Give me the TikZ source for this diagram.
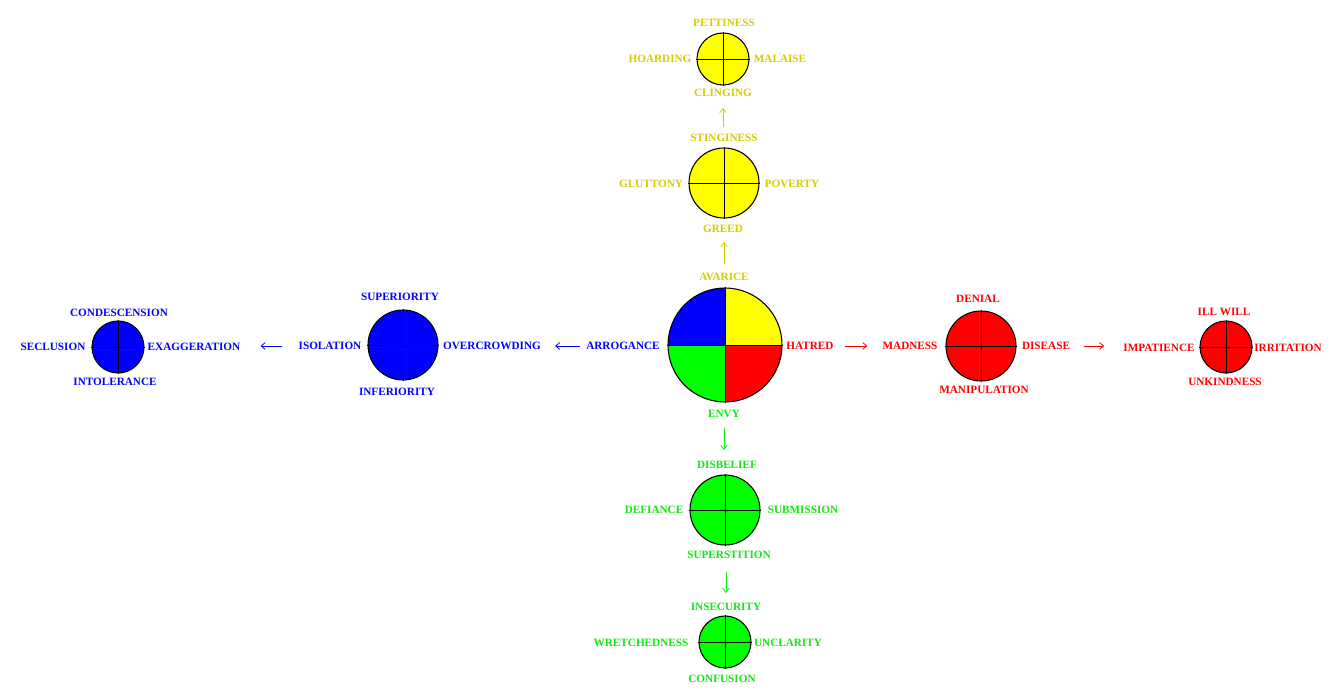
\documentclass[tikz,border=0pt]{standalone}
\usepackage{fontspec}
\setmainfont{Liberation Serif}
\usetikzlibrary{arrows.meta}
\definecolor{ytxt}{RGB}{214,204,0}
\definecolor{btxt}{RGB}{0,0,255}
\definecolor{gtxt}{RGB}{20,230,20}
\definecolor{rtxt}{RGB}{255,0,0}
\definecolor{yfill}{RGB}{255,255,0}
\definecolor{bfill}{RGB}{0,0,255}
\definecolor{gfill}{RGB}{0,255,0}
\definecolor{rfill}{RGB}{255,0,0}
\begin{document}
\begin{tikzpicture}[x=0.75pt,y=-0.75pt,
  lab/.style={inner sep=0pt, font=\fontsize{8.4}{10}\selectfont\bfseries},
  ball/.style={circle, draw=black, line width=0.8pt, inner sep=0pt},
  big/.style={ball, minimum size=52.5pt},
  small/.style={ball, minimum size=39pt},
  cross/.style={black, line width=0.6pt},
  arr/.style={-{Straight Barb[length=3pt,width=5pt]}, line width=0.6pt}
]
\useasboundingbox (0,0) rectangle (1341,698);
\fill[white] (0,0) rectangle (1341,698);

% centre circle
\begin{scope}
\clip (725,345) circle[radius=42.75pt];
\fill[bfill] (725,345) rectangle ++(-60,-60);
\fill[yfill] (725,345) rectangle ++(60,-60);
\fill[gfill] (725,345) rectangle ++(-60,60);
\fill[rfill] (725,345) rectangle ++(60,60);
\end{scope}
\node[ball, minimum size=85.5pt] (c0) at (725,345) {};
\draw[cross] (c0.north) -- (c0.south) (c0.west) -- (c0.east);

% other circles
\node[big, fill=yfill] (y2) at (724,183) {};
\node[small, fill=yfill] (y3) at (723,59) {};
\node[big, fill=bfill] (b2) at (403,345) {};
\node[small, fill=bfill] (b3) at (118,347) {};
\node[big, fill=rfill] (r2) at (981,346) {};
\node[small, fill=rfill] (r3) at (1226,347) {};
\node[big, fill=gfill] (g2) at (725,510) {};
\node[small, fill=gfill] (g3) at (725,642) {};
\foreach \c in {y2,y3,b2,b3,r2,r3,g2,g3}{
  \draw[cross] (\c.north) -- (\c.south) (\c.west) -- (\c.east);
}

% labels
\begin{scope}[every node/.style={lab, text=ytxt}]
\node (pettiness) at (724,23) {PETTINESS};
\node (hoarding) at (660,59) {HOARDING};
\node (malaise) at (780,59) {MALAISE};
\node (clinging) at (723,93) {CLINGING};
\node (stinginess) at (724,138) {STINGINESS};
\node (gluttony) at (651,184) {GLUTTONY};
\node (poverty) at (792,184) {POVERTY};
\node (greed) at (723,229) {GREED};
\node (avarice) at (724,277) {AVARICE};
\end{scope}
\begin{scope}[every node/.style={lab, text=btxt}]
\node (superiority) at (400,297) {SUPERIORITY};
\node (isolation) at (330,346) {ISOLATION};
\node (overcrowding) at (492,346) {OVERCROWDING};
\node (inferiority) at (397,392) {INFERIORITY};
\node (condescension) at (119,313) {CONDESCENSION};
\node (seclusion) at (53,347) {SECLUSION};
\node (exaggeration) at (194,347) {EXAGGERATION};
\node (intolerance) at (115,382) {INTOLERANCE};
\node (arrogance) at (623,346) {ARROGANCE};
\end{scope}
\begin{scope}[every node/.style={lab, text=rtxt}]
\node (hatred) at (810,346) {HATRED};
\node (denial) at (978,299) {DENIAL};
\node (madness) at (910,346) {MADNESS};
\node (disease) at (1046,346) {DISEASE};
\node (manipulation) at (984,390) {MANIPULATION};
\node (illwill) at (1224,312) {ILL WILL};
\node (impatience) at (1159,348) {IMPATIENCE};
\node (irritation) at (1288,348) {IRRITATION};
\node (unkindness) at (1225,382) {UNKINDNESS};
\end{scope}
\begin{scope}[every node/.style={lab, text=gtxt}]
\node (envy) at (724,414) {ENVY};
\node (disbelief) at (727,465) {DISBELIEF};
\node (defiance) at (654,510) {DEFIANCE};
\node (submission) at (803,510) {SUBMISSION};
\node (superstition) at (729,555) {SUPERSTITION};
\node (insecurity) at (726,607) {INSECURITY};
\node (wretchedness) at (641,643) {WRETCHEDNESS};
\node (unclarity) at (788,643) {UNCLARITY};
\node (confusion) at (722,679) {CONFUSION};
\end{scope}

% arrows
\draw[arr, ytxt, shorten <=6.75pt, shorten >=6.75pt] (avarice.north) -- (avarice.north |- greed.south);
\draw[arr, ytxt, shorten <=5.25pt, shorten >=8.25pt] (clinging.south |- stinginess.north) -- (clinging.south);
\draw[arr, btxt, shorten <=4.5pt, shorten >=10.5pt] (arrogance.west) -- (arrogance.west -| overcrowding.east);
\draw[arr, btxt, shorten <=12pt, shorten >=15pt] (isolation.west) -- (isolation.west -| exaggeration.east);
\draw[arr, rtxt, shorten <=8.25pt, shorten >=11.25pt] (hatred.east) -- (hatred.east -| madness.west);
\draw[arr, rtxt, shorten <=10.5pt, shorten >=14.25pt] (disease.east) -- (disease.east -| impatience.west);
\draw[arr, gtxt, shorten <=7.5pt, shorten >=8.25pt] (envy.south) -- (envy.south |- disbelief.north);
\draw[arr, gtxt, shorten <=9.75pt, shorten >=7.5pt] (insecurity.north |- superstition.south) -- (insecurity.north);
\end{tikzpicture}
\end{document}
